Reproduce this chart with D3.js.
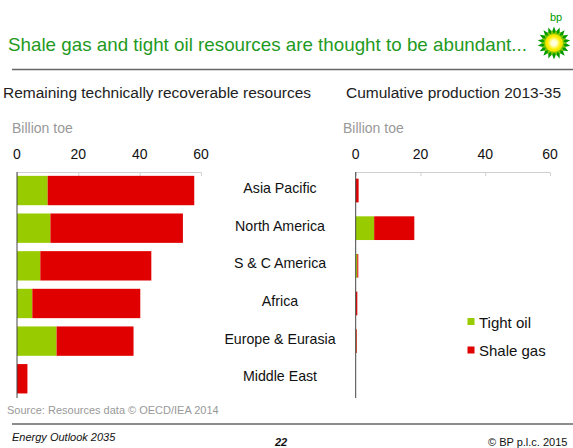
<!DOCTYPE html>
<html>
<head>
<meta charset="utf-8">
<script src="https://cdn.jsdelivr.net/npm/d3@7"></script>
<style>
  html, body { margin: 0; padding: 0; background: #fff; }
  svg { display: block; font-family: "Liberation Sans", Arial, sans-serif; }
</style>
</head>
<body>
<svg id="chart" width="573" height="448"></svg>
<script>
// Regions, top to bottom
const categories = ["Asia Pacific", "North America", "S & C America", "Africa", "Europe & Eurasia", "Middle East"];
// Remaining technically recoverable resources (billion toe)
const resourcesTightOil = [10.0, 10.9, 7.6, 5.0, 12.9, 0];
const resourcesShaleGas = [47.8, 43.2, 36.2, 35.2, 25.1, 3.4];
// Cumulative production 2013-35 (billion toe)
const productionTightOil = [0, 5.7, 0.5, 0.1, 0.2, 0];
const productionShaleGas = [0.9, 12.4, 0.3, 0.4, 0.2, 0];
const tickValues = [0, 20, 40, 60];
const seriesNames = ["Tight oil", "Shale gas"];
const seriesColors = ["#99cc00", "#e00000"];

const svg = d3.select("#chart");

// Header
svg.append("text").attr("x", 8).attr("y", 51)
  .attr("font-size", 19).attr("fill", "#1f9a1f")
  .attr("textLength", 519).attr("lengthAdjust", "spacingAndGlyphs")
  .text("Shale gas and tight oil resources are thought to be abundant...");
svg.append("line").attr("x1", 12).attr("x2", 573).attr("y1", 69.5).attr("y2", 69.5)
  .attr("stroke", "#666").attr("stroke-width", 1.6);

// bp helios mark
const logo = svg.append("g").attr("transform", "translate(554,43)");
const defs = svg.append("defs");
const grad = defs.append("radialGradient").attr("id", "sun");
grad.append("stop").attr("offset", "0%").attr("stop-color", "#ffffff");
grad.append("stop").attr("offset", "35%").attr("stop-color", "#ffffc0");
grad.append("stop").attr("offset", "70%").attr("stop-color", "#ffee00");
grad.append("stop").attr("offset", "100%").attr("stop-color", "#e8e000");
function star(points, rOut, rIn, rot) {
  const pts = [];
  for (let i = 0; i < points * 2; i++) {
    const r = i % 2 === 0 ? rOut : rIn;
    const a = rot + Math.PI * i / points;
    pts.push([r * Math.sin(a), -r * Math.cos(a)]);
  }
  return d3.line()(pts) + "Z";
}
logo.append("path").attr("d", star(18, 16.5, 11.5, 0)).attr("fill", "#009a00");
logo.append("path").attr("d", star(18, 13, 9.5, Math.PI / 18)).attr("fill", "#7cc800");
logo.append("circle").attr("r", 9).attr("fill", "url(#sun)");
svg.append("text").attr("x", 550).attr("y", 21).attr("font-size", 11)
  .attr("fill", "#009a00").text("bp");

// Panel titles and unit labels
svg.append("text").attr("x", 3).attr("y", 98).attr("font-size", 15.2).attr("fill", "#222")
  .attr("textLength", 308).attr("lengthAdjust", "spacingAndGlyphs")
  .text("Remaining technically recoverable resources");
svg.append("text").attr("x", 346).attr("y", 98).attr("font-size", 15.2).attr("fill", "#222")
  .attr("textLength", 215).attr("lengthAdjust", "spacingAndGlyphs")
  .text("Cumulative production 2013-35");
svg.append("text").attr("x", 12).attr("y", 133).attr("font-size", 14).attr("fill", "#999")
  .text("Billion toe");
svg.append("text").attr("x", 343).attr("y", 133).attr("font-size", 14).attr("fill", "#999")
  .text("Billion toe");

function panel(x0, x1, tight, shale, padding) {
  const x = d3.scaleLinear().domain([0, 60]).range([x0, x1]);
  const y = d3.scaleBand().domain(categories).range([171.7, 397.6])
    .paddingInner(padding).paddingOuter(padding / 2);
  const g = svg.append("g");

  // Tick labels above the plot
  g.selectAll("text.tick").data(tickValues).join("text")
    .attr("class", "tick")
    .attr("x", d => x(d)).attr("y", 159)
    .attr("text-anchor", "middle").attr("font-size", 14).attr("fill", "#111")
    .text(d => d);

  // Top axis with short downward ticks
  const axis = g.append("g").attr("transform", "translate(0,172.5)")
    .call(d3.axisTop(x).tickValues(tickValues).tickSize(-3.5).tickFormat(""));
  axis.select(".domain").attr("stroke", "#cfcfcf").attr("d", `M${x0},0H${x1}`);
  axis.selectAll(".tick line").attr("stroke", "#cfcfcf");

  // Stacked bars
  const rows = categories.map((c, i) => ({ c, t: tight[i], s: shale[i] }));
  g.selectAll("rect.tight").data(rows).join("rect")
    .attr("x", x(0)).attr("y", d => y(d.c))
    .attr("width", d => x(d.t) - x(0)).attr("height", y.bandwidth())
    .attr("fill", seriesColors[0]);
  g.selectAll("rect.shale").data(rows).join("rect")
    .attr("x", d => x(d.t)).attr("y", d => y(d.c))
    .attr("width", d => x(d.t + d.s) - x(d.t)).attr("height", y.bandwidth())
    .attr("fill", seriesColors[1]);

  // Vertical base axis
  g.append("line").attr("x1", x(0)).attr("x2", x(0)).attr("y1", 172).attr("y2", 398)
    .attr("stroke", "#444").attr("stroke-width", 1);
  return y;
}

const yLeft = panel(17, 201, resourcesTightOil, resourcesShaleGas, 0.22);
panel(355.7, 550, productionTightOil, productionShaleGas, 0.37);

// Category labels between the panels
svg.selectAll("text.cat").data(categories).join("text")
  .attr("class", "cat")
  .attr("x", 280).attr("y", d => yLeft(d) + yLeft.bandwidth() / 2 + 2.5)
  .attr("text-anchor", "middle").attr("font-size", 14.2).attr("fill", "#111")
  .text(d => d);

// Legend
const legend = svg.append("g");
seriesNames.forEach((name, i) => {
  const ly = 322 + i * 28.5;
  legend.append("rect").attr("x", 467.5).attr("y", ly - 4).attr("width", 7).attr("height", 7)
    .attr("fill", seriesColors[i]);
  legend.append("text").attr("x", 479).attr("y", ly + 5.5).attr("font-size", 15)
    .attr("fill", "#111").text(name);
});

// Footer
svg.append("text").attr("x", 7).attr("y", 414).attr("font-size", 11).attr("fill", "#999")
  .text("Source: Resources data \u00A9 OECD/IEA 2014");
svg.append("line").attr("x1", 12).attr("x2", 573).attr("y1", 424).attr("y2", 424)
  .attr("stroke", "#666").attr("stroke-width", 1.4);
svg.append("text").attr("x", 12).attr("y", 441).attr("font-size", 11)
  .attr("font-style", "italic").attr("fill", "#111").text("Energy Outlook 2035");
svg.append("text").attr("x", 275).attr("y", 445.5).attr("font-size", 11)
  .attr("font-style", "italic").attr("font-weight", "bold").attr("fill", "#111").text("22");
svg.append("text").attr("x", 488).attr("y", 445.5).attr("font-size", 11)
  .attr("fill", "#111").text("\u00A9 BP p.l.c. 2015");
</script>
</body>
</html>
